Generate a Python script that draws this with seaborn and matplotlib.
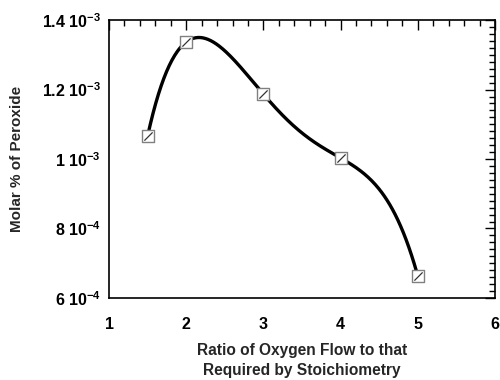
import numpy as np
import pandas as pd
import seaborn as sns
import matplotlib
matplotlib.use("Agg")
import matplotlib.pyplot as plt
from matplotlib.path import Path
from matplotlib.ticker import MultipleLocator, FixedLocator

ratio = [1.5, 2, 3, 4, 5]
peroxide = [1.066e-3, 1.337e-3, 1.187e-3, 1.003e-3, 6.63e-4]
y_ticks = [6e-4, 8e-4, 1e-3, 1.2e-3, 1.4e-3]
y_tick_labels = ["6 10$^{-4}$", "8 10$^{-4}$", "1 10$^{-3}$", "1.2 10$^{-3}$", "1.4 10$^{-3}$"]
x_ticks = [1, 2, 3, 4, 5, 6]

sns.set_style("white")
plt.rcParams['font.family'] = ['Liberation Sans', 'DejaVu Sans']
plt.rcParams['font.weight'] = 'bold'
plt.rcParams['mathtext.fontset'] = 'custom'
plt.rcParams['mathtext.rm'] = 'Liberation Sans:bold'
plt.rcParams['mathtext.bf'] = 'Liberation Sans:bold'
plt.rcParams['mathtext.default'] = 'bf'

fig = plt.figure(figsize=(5, 3.8), dpi=100)
ax = fig.add_axes([0.218, 0.216, 0.772, 0.731])

df = pd.DataFrame({"ratio": ratio, "peroxide": peroxide})
coef = np.polyfit(df["ratio"], df["peroxide"], 4)
xs = np.linspace(min(ratio), max(ratio), 300)
curve = pd.DataFrame({"x": xs, "y": np.polyval(coef, xs)})
sns.lineplot(data=curve, x="x", y="y", ax=ax, color="black", linewidth=2.4, zorder=2)

sns.scatterplot(data=df, x="ratio", y="peroxide", ax=ax, marker="s", s=70,
                facecolor="white", edgecolor="#808080", linewidth=1.0, zorder=3)
diag = Path([(-1, -1), (1, 1)], [Path.MOVETO, Path.LINETO])
ax.scatter(df["ratio"], df["peroxide"], marker=diag, s=35, color="#333333",
           linewidths=0.9, zorder=4)

ax.set_xlim(1, 6)
ax.set_ylim(6e-4, 1.4e-3)
ax.xaxis.set_major_locator(FixedLocator(x_ticks))
ax.xaxis.set_minor_locator(MultipleLocator(0.2))
ax.yaxis.set_major_locator(FixedLocator(y_ticks))
ax.yaxis.set_minor_locator(MultipleLocator(2e-5))
ax.set_xticklabels([str(t) for t in x_ticks])
ax.set_yticklabels(y_tick_labels)
ax.tick_params(which="both", direction="in", top=True, right=True, colors="black",
               labelsize=11.5, width=1)
ax.tick_params(which="major", length=7)
ax.tick_params(which="minor", length=4)
ax.tick_params(axis="x", which="major", pad=14)
ax.tick_params(axis="y", which="major", pad=6)
for s in ax.spines.values():
    s.set_color("black")
    s.set_linewidth(1.2)

ax.set_xlabel("Ratio of Oxygen Flow to that\nRequired by Stoichiometry",
              fontsize=11.2, fontweight="bold", labelpad=8, linespacing=1.35)
ax.set_ylabel("Molar % of Peroxide", fontsize=11, fontweight="bold", labelpad=13)

fig.savefig("out.png", dpi=100)
